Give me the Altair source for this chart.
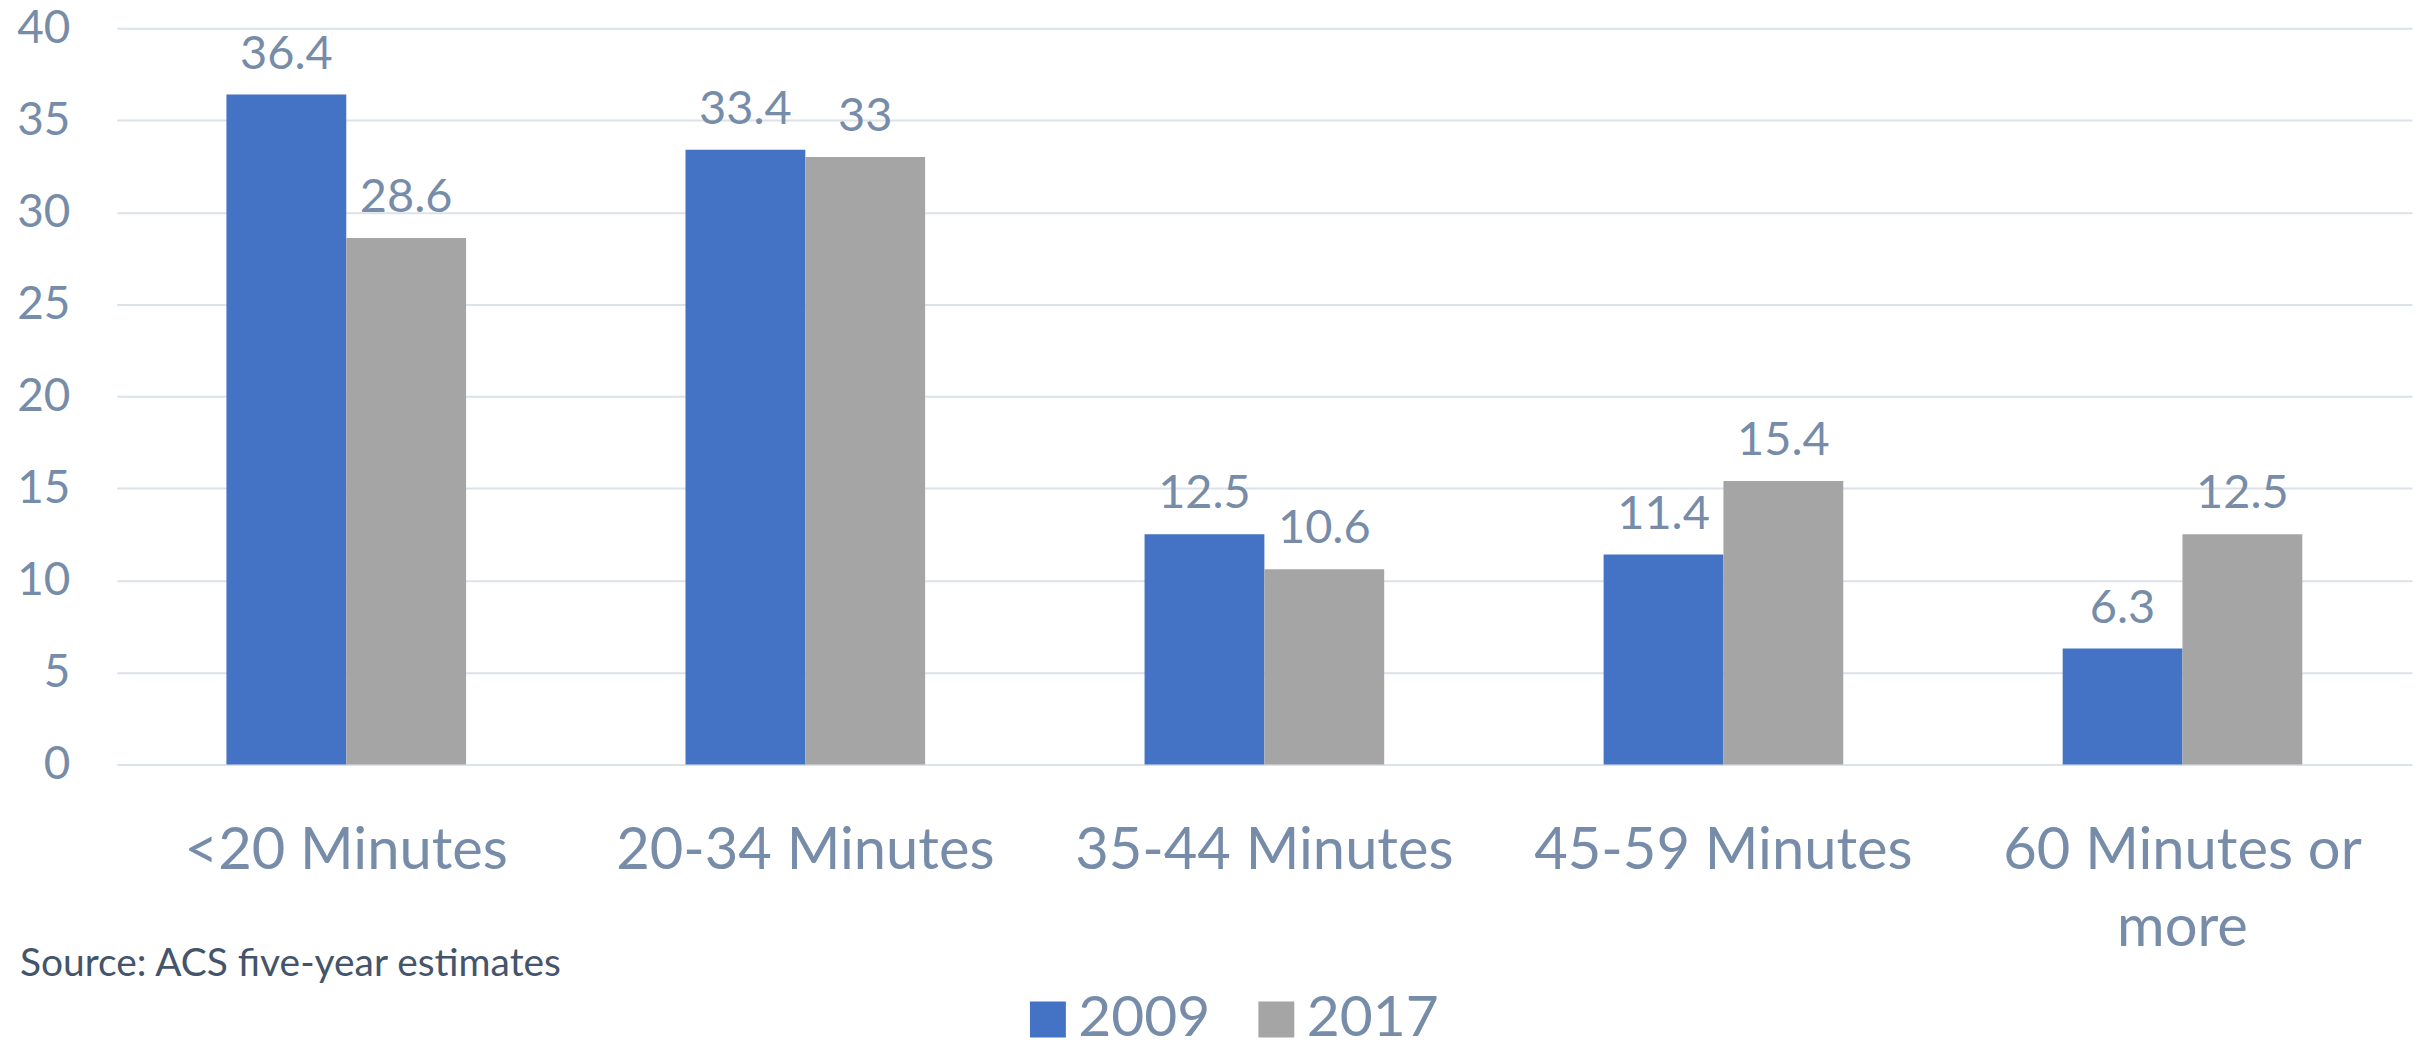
import altair as alt
import pandas as pd

categories = ["<20 Minutes", "20-34 Minutes", "35-44 Minutes", "45-59 Minutes", "60 Minutes or more"]
years = ["2009", "2017"]
values_2009 = [36.4, 33.4, 12.5, 11.4, 6.3]
values_2017 = [28.6, 33, 10.6, 15.4, 12.5]
y_ticks = [0, 5, 10, 15, 20, 25, 30, 35, 40]
source_note = "Source: ACS five-year estimates"

rows = []
for c, a, b in zip(categories, values_2009, values_2017):
    rows.append({"cat": c, "year": years[0], "value": a})
    rows.append({"cat": c, "year": years[1], "value": b})
df = pd.DataFrame(rows)

FONT = "Lato"
LABEL = "#768CA9"

x = alt.X(
    "cat:N", sort=categories,
    scale=alt.Scale(paddingInner=0.478, paddingOuter=0.239),
    axis=alt.Axis(
        title=None, labelAngle=0, labelFontSize=58, labelColor=LABEL, labelFont=FONT,
        ticks=False, tickSize=0, domain=False, labelPadding=58, labelLineHeight=78,
        labelLimit=1000, labelBaseline="top",
        labelExpr="datum.label == '60 Minutes or more' ? ['60 Minutes or', 'more'] : datum.label",
    ),
)
xo = alt.XOffset("year:N", sort=years, scale=alt.Scale(paddingInner=0, paddingOuter=0))
y = alt.Y(
    "value:Q",
    scale=alt.Scale(domain=[0, 40], nice=False),
    axis=alt.Axis(
        values=y_ticks, title=None, labelFontSize=46, labelColor=LABEL, labelFont=FONT,
        domain=False, ticks=False, tickSize=0, gridColor="#DCE2EA", gridWidth=2, labelPadding=47,
    ),
)
color = alt.Color(
    "year:N",
    scale=alt.Scale(domain=years, range=["#4472C4", "#A5A5A5"]),
    legend=alt.Legend(
        title=None, orient="none", legendX=905, legendY=965, direction="horizontal",
        symbolType="square", symbolSize=1296, symbolStrokeWidth=0, labelFontSize=57,
        labelColor=LABEL, labelFont=FONT, labelOffset=2, columnPadding=37, padding=0,
    ),
)

bars = alt.Chart(df).mark_bar().encode(x=x, xOffset=xo, y=y, color=color)
labels = alt.Chart(df).mark_text(
    baseline="alphabetic", dy=-26, fontSize=47, font=FONT, color=LABEL
).encode(x=x, xOffset=xo, y=y, text=alt.Text("value:Q"))

note = alt.Chart(pd.DataFrame({"t": [source_note]})).mark_text(
    align="left", baseline="alphabetic", fontSize=39, font=FONT, color="#44546A"
).encode(x=alt.value(20 - 117), y=alt.value(977 - 27), text="t:N")

chart = alt.layer(bars, labels, note).properties(
    width=2301, height=738,
    padding={"left": 109, "top": 19, "right": 5, "bottom": 276},
    autosize="none",
).configure_view(stroke=None)

chart.save("out.html", embed_options={"renderer": "svg", "actions": False})
